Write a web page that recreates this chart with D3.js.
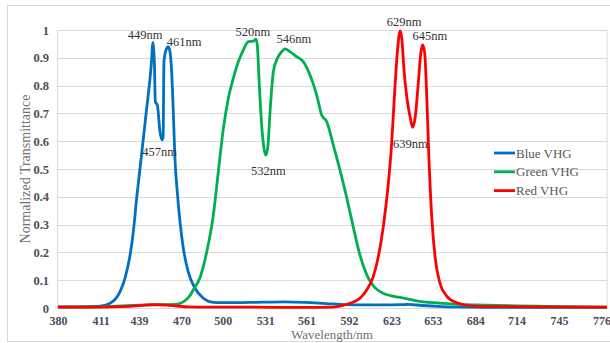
<!DOCTYPE html>
<html>
<head>
<meta charset="utf-8">
<script src="https://cdn.jsdelivr.net/npm/d3@7"></script>
<style>
    body { margin: 0; background: #fff; }
    text { font-family: "Liberation Serif", "Times New Roman", serif; }
</style>
</head>
<body>
<div id="container"></div>
<script>
// x tick labels (wavelength, nm) and y ticks
const xTicks = [380, 411, 439, 470, 500, 531, 561, 592, 623, 653, 684, 714, 745, 776];
const yTicks = [0, 0.1, 0.2, 0.3, 0.4, 0.5, 0.6, 0.7, 0.8, 0.9, 1];

// Blue VHG
const blueW = [380, 395, 411, 418, 425.2, 428.8, 432.5, 434.9, 437.3, 439.7, 442.2, 444.6, 446.5, 448.3, 449, 450.2, 450.9, 452.4, 454.3, 455.8, 456.6, 457.2, 458.7, 460.3, 461.6, 462.8, 464, 465.2, 466.9, 468.9, 471.3, 474.9, 479.8, 485.9, 493.2, 500, 530, 545, 560, 575, 590, 600, 615, 630, 635, 645, 660, 680, 700, 740, 780];
const blueV = [0.004, 0.004, 0.007, 0.017, 0.059, 0.107, 0.19, 0.275, 0.395, 0.5, 0.61, 0.718, 0.8, 0.898, 0.955, 0.886, 0.742, 0.73, 0.634, 0.605, 0.616, 0.886, 0.928, 0.94, 0.922, 0.85, 0.706, 0.538, 0.418, 0.31, 0.215, 0.13, 0.071, 0.035, 0.02, 0.019, 0.021, 0.022, 0.02, 0.016, 0.012, 0.011, 0.011, 0.012, 0.013, 0.009, 0.005, 0.003, 0.002, 0.002, 0.002];

// Green VHG
const greenW = [380, 400, 420, 440, 455, 465, 471.3, 476.2, 478.6, 483.5, 488.3, 493.2, 496.8, 500.5, 504.1, 507.7, 511.4, 515, 518.7, 522.3, 524.3, 525.2, 526.7, 528.4, 530.1, 531.5, 533, 534.5, 536.9, 539.8, 543, 545.4, 549, 553.9, 558.7, 563.6, 568.5, 572.1, 575.8, 580.6, 585.5, 590.3, 595.2, 600, 604.9, 609.7, 617, 629.2, 641.3, 653.5, 668, 684, 700, 714, 745, 780];
const greenV = [0.003, 0.004, 0.006, 0.01, 0.012, 0.013, 0.022, 0.045, 0.065, 0.11, 0.2, 0.335, 0.49, 0.646, 0.754, 0.826, 0.886, 0.928, 0.958, 0.96, 0.967, 0.946, 0.8, 0.658, 0.574, 0.55, 0.586, 0.706, 0.85, 0.898, 0.922, 0.932, 0.922, 0.904, 0.886, 0.838, 0.766, 0.694, 0.67, 0.586, 0.495, 0.398, 0.29, 0.19, 0.12, 0.08, 0.053, 0.038, 0.026, 0.019, 0.014, 0.011, 0.009, 0.008, 0.005, 0.003];

// Red VHG
const redW = [380, 400, 420, 435, 445, 450, 455, 465, 475, 490, 520, 560, 580, 585.5, 592.8, 600, 604.9, 609.7, 613.4, 617, 620.7, 623.1, 624.8, 626.8, 628.7, 629.4, 630.6, 632.1, 634.1, 636.5, 638.4, 640.3, 642.5, 644.3, 645.7, 647.2, 648.6, 650.3, 652.3, 654.7, 658.3, 663.2, 670.5, 682.6, 700, 740, 780];
const redV = [0.003, 0.003, 0.004, 0.007, 0.011, 0.012, 0.011, 0.008, 0.004, 0.003, 0.003, 0.002, 0.003, 0.007, 0.017, 0.035, 0.065, 0.113, 0.185, 0.292, 0.449, 0.592, 0.736, 0.892, 0.988, 0.997, 0.964, 0.856, 0.76, 0.688, 0.65, 0.688, 0.808, 0.916, 0.946, 0.916, 0.772, 0.532, 0.328, 0.185, 0.089, 0.043, 0.019, 0.007, 0.005, 0.004, 0.003];

const seriesNames = ["Blue VHG", "Green VHG", "Red VHG"];
const seriesColors = ["#0070c0", "#00b050", "#ff0000"];

// peak labels: text plus anchor point (wavelength, value)
const annoText = ["449nm", "461nm", "457nm", "520nm", "546nm", "532nm", "629nm", "645nm", "639nm"];
const annoW = [443.4, 471.8, 454, 521.9, 551.8, 533.2, 632.1, 651, 636.8];
const annoV = [0.969, 0.942, 0.547, 0.977, 0.955, 0.479, 1.014, 0.964, 0.576];

const width = 610;
const height = 343;
const plotLeft = 58, plotRight = 607, plotTop = 30, plotBottom = 308;

const scaleX = d3.scaleLinear().domain([380, 780]).range([plotLeft, plotRight]);
const scaleY = d3.scaleLinear().domain([0, 1]).range([plotBottom, plotTop]);

const svg = d3.select("#container")
    .append("svg")
    .attr("width", width)
    .attr("height", height);

// outer chart frame
svg.append("rect")
    .attr("x", 7.5).attr("y", 5.5)
    .attr("width", 620).attr("height", 336)
    .attr("fill", "#fff")
    .attr("stroke", "#d9d9d9");

// gridlines
svg.append("g")
    .selectAll("line")
    .data(yTicks)
    .join("line")
    .attr("x1", plotLeft).attr("x2", plotRight)
    .attr("y1", d => Math.round(scaleY(d)) + 0.5)
    .attr("y2", d => Math.round(scaleY(d)) + 0.5)
    .attr("stroke", "#d9d9d9");

// plot area border
svg.append("rect")
    .attr("x", plotLeft - 0.5).attr("y", plotTop + 0.5)
    .attr("width", plotRight - plotLeft + 0.5).attr("height", plotBottom - plotTop)
    .attr("fill", "none")
    .attr("stroke", "#d9d9d9");

// y axis labels
const yAxis = svg.append("g")
    .attr("transform", "translate(" + (plotLeft - 9) + ",0)")
    .call(d3.axisLeft(scaleY).tickValues(yTicks).tickSize(0).tickPadding(0).tickFormat(d3.format("~g")));
yAxis.select(".domain").remove();
yAxis.selectAll("text")
    .attr("fill", "#4d4d5c")
    .attr("font-size", 12.5)
    .attr("font-weight", "bold");

// x axis labels
const xAxis = svg.append("g")
    .attr("transform", "translate(0," + plotBottom + ")")
    .call(d3.axisBottom(scaleX).tickValues(xTicks).tickSize(0).tickPadding(0).tickFormat(d3.format("d")));
xAxis.select(".domain").remove();
xAxis.selectAll("text")
    .attr("dy", null)
    .attr("y", 17)
    .attr("fill", "#4d4d5c")
    .attr("font-size", 12)
    .attr("font-weight", "bold");

// axis titles
svg.append("text")
    .attr("x", 332).attr("y", 339)
    .attr("text-anchor", "middle")
    .attr("font-size", 13)
    .attr("fill", "#707070")
    .text("Wavelength/nm");

svg.append("text")
    .attr("transform", "translate(30," + ((plotTop + plotBottom) / 2) + ") rotate(-90)")
    .attr("text-anchor", "middle")
    .attr("font-size", 14)
    .attr("fill", "#707070")
    .text("Normalized Transmittance");

// lines
const line = d3.line()
    .x(d => scaleX(d[0]))
    .y(d => scaleY(d[1]))
    .curve(d3.curveMonotoneX);

const series = [
    d3.zip(blueW, blueV),
    d3.zip(greenW, greenV),
    d3.zip(redW, redV)
];

svg.append("g")
    .selectAll("path")
    .data(series)
    .join("path")
    .attr("fill", "none")
    .attr("stroke", (d, i) => seriesColors[i])
    .attr("stroke-width", 2.8)
    .attr("stroke-linejoin", "round")
    .attr("d", line);

// peak labels
svg.append("g")
    .selectAll("text")
    .data(annoText)
    .join("text")
    .attr("x", (d, i) => scaleX(annoW[i]))
    .attr("y", (d, i) => scaleY(annoV[i]))
    .attr("text-anchor", "middle")
    .attr("font-size", 12.5)
    .attr("fill", "#333")
    .text(d => d);

// legend
const legend = svg.append("g")
    .attr("transform", "translate(494,153)");
const item = legend.selectAll("g")
    .data(seriesNames)
    .join("g")
    .attr("transform", (d, i) => "translate(0," + i * 18.8 + ")");
item.append("line")
    .attr("x1", 0).attr("x2", 21)
    .attr("stroke", (d, i) => seriesColors[i])
    .attr("stroke-width", 2.8);
item.append("text")
    .attr("x", 22).attr("y", 4.5)
    .attr("font-size", 13)
    .attr("fill", "#595959")
    .text(d => d);
</script>
</body>
</html>
